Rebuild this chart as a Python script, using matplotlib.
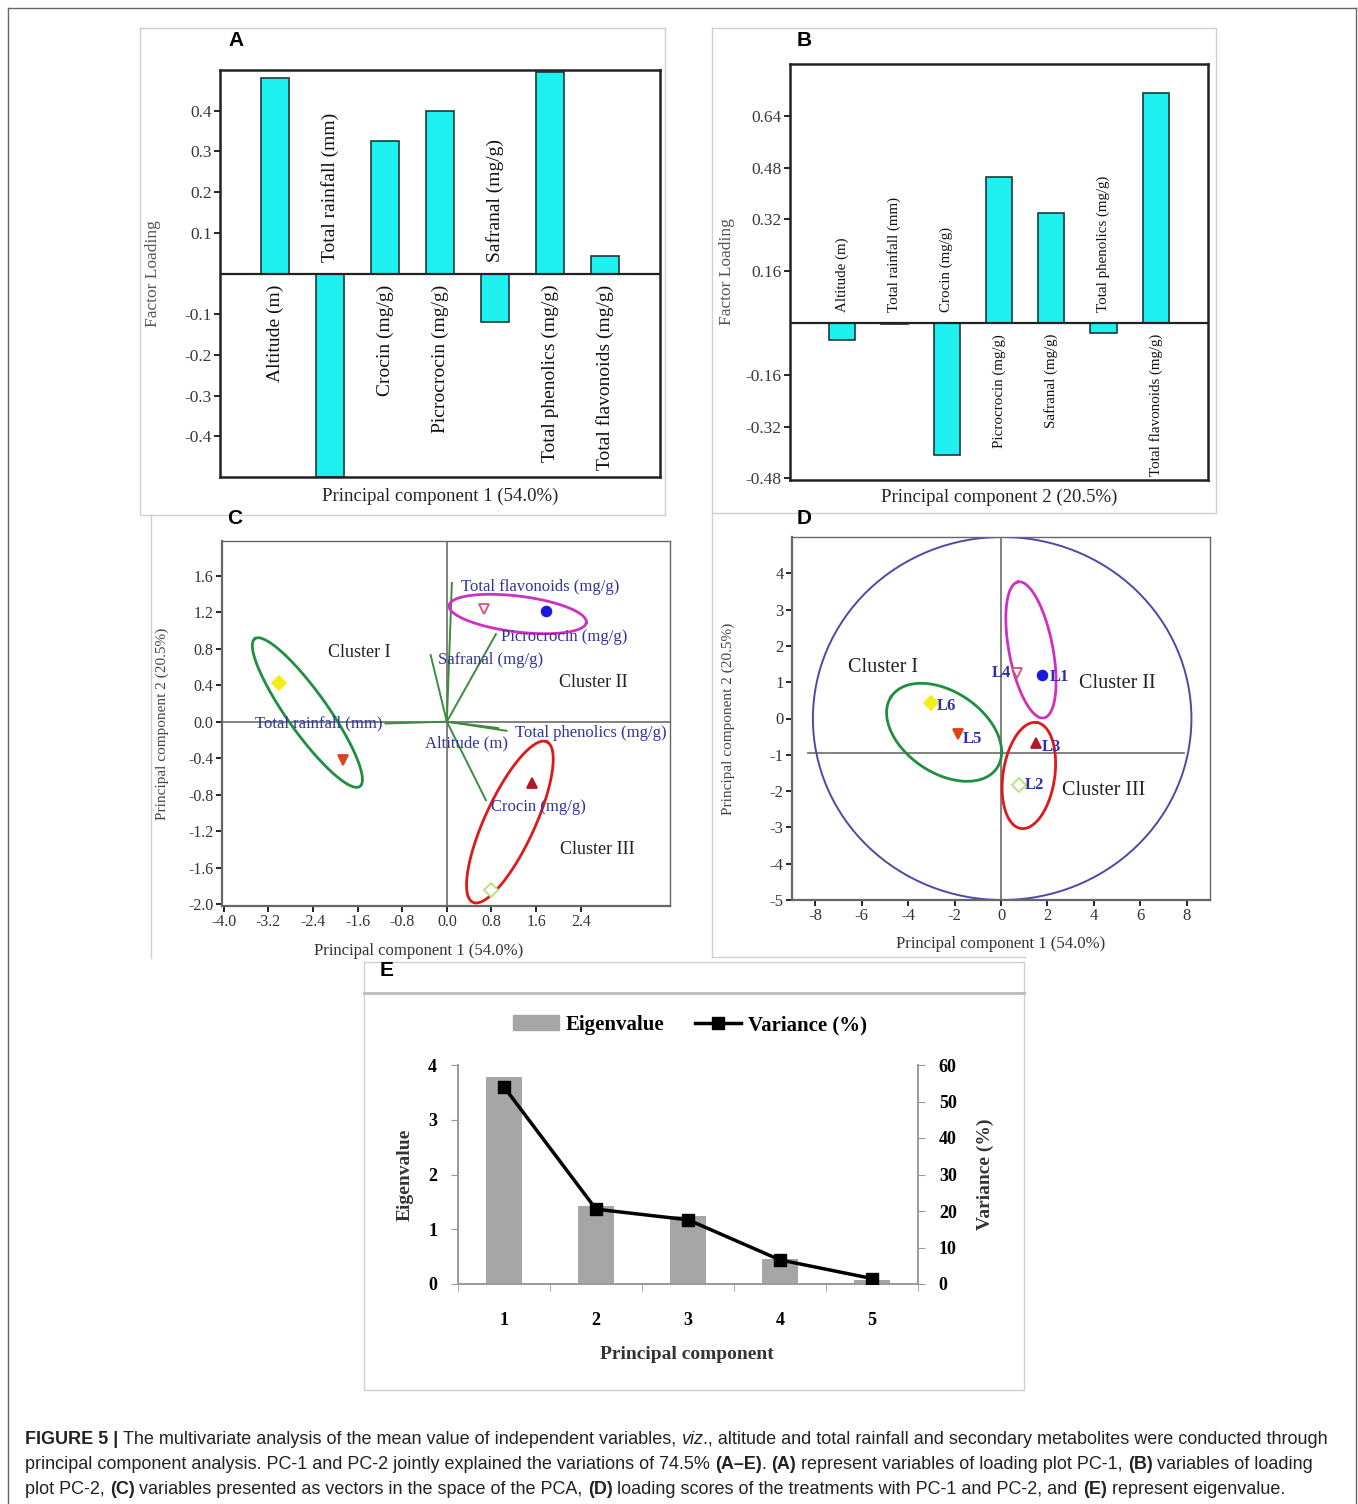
import numpy as np
import matplotlib.pyplot as plt
from matplotlib.patches import Ellipse, Patch
from matplotlib.lines import Line2D

W, H = 1358, 1504
SERIF = 'Liberation Serif'
SANS = 'Liberation Sans'

# ---- data ----
variables = ['Altitude (m)', 'Total rainfall (mm)', 'Crocin (mg/g)', 'Picrocrocin (mg/g)',
             'Safranal (mg/g)', 'Total phenolics (mg/g)', 'Total flavonoids (mg/g)']
pc1_loading = [0.48, -0.50, 0.326, 0.40, -0.118, 0.496, 0.042]
pc2_loading = [-0.053, -0.003, -0.408, 0.451, 0.34, -0.031, 0.711]

# biplot vector tips (panel C)
vec_x = [0.92, -1.10, 0.70, 0.88, -0.29, 1.07, 0.09]
vec_y = [-0.07, -0.02, -0.86, 0.96, 0.73, -0.10, 1.52]

locations = ['L1', 'L2', 'L3', 'L4', 'L5', 'L6']
score_pc1 = [1.78, 0.79, 1.52, 0.67, -1.87, -3.0]
score_pc2 = [1.21, -1.84, -0.67, 1.24, -0.42, 0.42]

components = [1, 2, 3, 4, 5]
eigenvalues = [3.78, 1.43, 1.24, 0.45, 0.07]
variance_pct = [54.0, 20.5, 17.6, 6.6, 1.5]

ytick_a = [-0.4, -0.3, -0.2, -0.1, 0.1, 0.2, 0.3, 0.4]
ytick_b = [-0.48, -0.32, -0.16, 0.16, 0.32, 0.48, 0.64]
xtick_c = [-4.0, -3.2, -2.4, -1.6, -0.8, 0.0, 0.8, 1.6, 2.4]
ytick_c = [-2.0, -1.6, -1.2, -0.8, -0.4, 0.0, 0.4, 0.8, 1.2, 1.6]

# marker style per location L1..L6
loc_marker = ['o', 'D', '^', 'v', 'v', 'D']
loc_face = ['#1a1adf', 'white', '#b0182a', 'white', '#e0401a', '#f2ee1c']
loc_edge = ['#1a1adf', '#b5e27a', '#b0182a', '#d9507a', '#e0401a', '#f2ee1c']

fig = plt.figure(figsize=(W / 100, H / 100), dpi=100)
fig.patch.set_facecolor('white')


def px_rect(x0, y0, x1, y1):
    return [x0 / W, 1 - y1 / H, (x1 - x0) / W, (y1 - y0) / H]


def fig_line(xs, ys, color='#cfcfcf', lw=1.0):
    fig.add_artist(Line2D([x / W for x in xs], [1 - y / H for y in ys],
                          color=color, lw=lw, transform=fig.transFigure))


def fig_box(x0, y0, x1, y1, **kw):
    fig_line([x0, x1, x1, x0, x0], [y0, y0, y1, y1, y0], **kw)


def panel_letter(x, y, s):
    fig.text(x / W, 1 - y / H, s, family=SANS, weight='bold', fontsize=15,
             ha='center', va='center')


def draw_ellipse(ax, c, u, v, color):
    t = np.linspace(0, 2 * np.pi, 240)
    ax.plot(c[0] + u[0] * np.cos(t) + v[0] * np.sin(t),
            c[1] + u[1] * np.cos(t) + v[1] * np.sin(t), color=color, lw=2.0, zorder=4)


def style_box(ax, lw=1.8, color='#222'):
    for s in ax.spines.values():
        s.set_linewidth(lw)
        s.set_color(color)


def fmt1(v):
    return '%.1f' % (0.0 if abs(v) < 1e-9 else v)


# outer border and panel frames
fig_line([8, 8], [1504, 8], color='#666')
fig_line([8, 1356], [8, 8], color='#666')
fig_line([1356, 1356], [8, 1504], color='#666')
fig_box(140, 28, 665, 515)
fig_box(712, 28, 1216, 513)
fig_line([151, 151], [515, 958])
fig_line([712, 712], [513, 957])
fig_line([712, 1025], [957, 957])
fig_box(364, 962, 1024, 1390)
fig_line([364, 1024], [993, 993], color='#bbbbbb', lw=2)


def loading_panel(rect, values, ylim, yticks, fmt, xlabel, fs, ylab_x, xlab_y):
    ax = fig.add_axes(px_rect(*rect))
    x = np.arange(len(variables))
    ax.bar(x, values, width=0.5, color='#1ef0f0', edgecolor='#1b3b3b', lw=1.2, zorder=2)
    ax.axhline(0, color='#222', lw=1.6, zorder=3)
    ax.set_xlim(-1, 7)
    ax.set_ylim(*ylim)
    ax.set_xticks([])
    ax.set_yticks(yticks)
    ax.set_yticklabels([fmt % v for v in yticks], family=SERIF)
    ax.tick_params(axis='y', direction='out', length=4, width=1.2, labelsize=12.5,
                   labelcolor='#3a3a3a', pad=2)
    style_box(ax)
    for i, (name, v) in enumerate(zip(variables, values)):
        up = v < 0
        ax.annotate(name, (i, 0), xytext=(0, 8 if up else -8), textcoords='offset points',
                    rotation=90, ha='center', va='bottom' if up else 'top',
                    fontsize=fs, family=SERIF, color='#111')
    ax.set_ylabel('Factor Loading', family=SERIF, fontsize=12.5, color='#555', va='center')
    ax.yaxis.set_label_coords(ylab_x, 0.5)
    ax.set_xlabel(xlabel, family=SERIF, fontsize=13.5, color='#222', va='center')
    ax.xaxis.set_label_coords(0.5, xlab_y)
    return ax


# ---- A ----
loading_panel((220, 70, 660, 477), pc1_loading, (-0.5, 0.5), ytick_a, '%.1f',
              'Principal component 1 (54.0%)', 14, -0.152, -0.047)
panel_letter(236, 40, 'A')

# ---- B ----
loading_panel((790, 64, 1208, 480), pc2_loading, (-0.485, 0.80), ytick_b, '%.2f',
              'Principal component 2 (20.5%)', 10.8, -0.15, -0.041)
panel_letter(804, 40, 'B')

# ---- C ----
axc = fig.add_axes(px_rect(222, 541, 670, 906))
axc.set_xlim(-4.03, 4.0)
axc.set_ylim(-2.02, 1.98)
axc.axhline(0, color='#777', lw=1.3, zorder=1)
axc.axvline(0, color='#777', lw=1.3, zorder=1)
for vx, vy in zip(vec_x, vec_y):
    axc.plot([0, vx], [0, vy], color='#3d8b3d', lw=1.4, zorder=2)
vec_label_pos = [(-0.39, -0.24), (-3.43, -0.02), (0.80, -0.93), (0.97, 0.93),
                 (-0.16, 0.68), (1.23, -0.12), (0.25, 1.48)]
for name, (tx, ty) in zip(variables, vec_label_pos):
    axc.text(tx, ty, name, color='#33339a', fontsize=12, family=SERIF,
             ha='left', va='center', zorder=5)
for i in range(len(locations)):
    axc.plot(score_pc1[i], score_pc2[i], marker=loc_marker[i], ms=7,
             mfc=loc_face[i], mec=loc_edge[i], mew=1.3, ls='none', zorder=6)
draw_ellipse(axc, (-2.50, 0.10), (-0.94, 0.81), (0.30, 0.125), '#1f8f3f')
draw_ellipse(axc, (1.27, 1.18), (1.23, -0.093), (0.04, 0.195), '#d030c0')
draw_ellipse(axc, (1.13, -1.10), (0.66, 0.88), (0.41, -0.11), '#e01818')
for s, cx, cy in [('Cluster I', -1.57, 0.76), ('Cluster II', 2.63, 0.43),
                  ('Cluster III', 2.70, -1.40)]:
    axc.text(cx, cy, s, family=SERIF, fontsize=13, color='#222', ha='center', va='center')
axc.set_xticks(xtick_c)
axc.set_xticklabels([fmt1(v) for v in xtick_c], family=SERIF)
axc.set_yticks(ytick_c)
axc.set_yticklabels([fmt1(v) for v in ytick_c], family=SERIF)
axc.tick_params(direction='out', length=4, width=1.2, labelsize=11.5, labelcolor='#333', pad=2)
style_box(axc, lw=1.0, color='#666')
axc.spines['left'].set_linewidth(1.6)
axc.spines['bottom'].set_linewidth(1.6)
axc.set_ylabel('Principal component 2 (20.5%)', family=SERIF, fontsize=11, color='#444', va='center')
axc.yaxis.set_label_coords(-0.134, 0.5)
axc.set_xlabel('Principal component 1 (54.0%)', family=SERIF, fontsize=12, color='#333', va='center')
axc.xaxis.set_label_coords(0.44, -0.123)
panel_letter(235, 518, 'C')

# ---- D ----
axd = fig.add_axes(px_rect(792, 537, 1210, 900))
axd.set_xlim(-9, 9)
axd.set_ylim(-5, 5)
axd.add_patch(Ellipse((0.05, 0), 16.3, 10.0, fill=False, ec='#4a4aa8', lw=1.4, zorder=2))
axd.axvline(0, color='#777', lw=1.3, zorder=1)
axd.plot([-8.3, 7.9], [-0.96, -0.96], color='#777', lw=1.3, zorder=1)
label_off = [(5, -2, 'left'), (4, 0, 'left'), (4, -3, 'left'),
             (-4, 0, 'right'), (4, -4, 'left'), (4, -2, 'left')]
for i, name in enumerate(locations):
    axd.plot(score_pc1[i], score_pc2[i], marker=loc_marker[i], ms=7,
             mfc=loc_face[i], mec=loc_edge[i], mew=1.3, ls='none', zorder=6)
    dx, dy, ha = label_off[i]
    axd.annotate(name, (score_pc1[i], score_pc2[i]), xytext=(dx, dy), textcoords='offset points',
                 ha=ha, va='center', family=SERIF, fontsize=12, weight='bold', color='#3030a0', zorder=7)
draw_ellipse(axd, (-2.45, -0.38), (-2.30, 0.96), (0.92, 0.95), '#1f8f3f')
draw_ellipse(axd, (1.29, 1.89), (-0.558, 1.873), (0.927, 0.114), '#d030c0')
draw_ellipse(axd, (1.20, -1.57), (0.343, 1.46), (1.10, -0.107), '#e01818')
for s, cx, cy in [('Cluster I', -5.1, 1.4), ('Cluster II', 5.0, 0.96), ('Cluster III', 4.4, -1.98)]:
    axd.text(cx, cy, s, family=SERIF, fontsize=14.5, color='#222', ha='center', va='center')
axd.set_xticks(np.arange(-8, 9, 2))
axd.set_xticklabels([str(v) for v in range(-8, 9, 2)], family=SERIF)
axd.set_yticks(np.arange(-5, 5, 1))
axd.set_yticklabels([str(v) for v in range(-5, 5)], family=SERIF)
axd.tick_params(direction='out', length=4, width=1.2, labelsize=12, labelcolor='#333', pad=2)
style_box(axd, lw=1.0, color='#666')
axd.spines['left'].set_linewidth(1.6)
axd.spines['bottom'].set_linewidth(1.6)
axd.set_ylabel('Principal component 2 (20.5%)', family=SERIF, fontsize=11, color='#444', va='center')
axd.yaxis.set_label_coords(-0.153, 0.5)
axd.set_xlabel('Principal component 1 (54.0%)', family=SERIF, fontsize=12, color='#333', va='center')
axd.xaxis.set_label_coords(0.5, -0.121)
panel_letter(804, 518, 'D')

# ---- E ----
axe = fig.add_axes(px_rect(458, 1065, 918, 1284))
axe.bar(components, eigenvalues, width=0.4, color='#a6a6a6', zorder=2)
axe.set_xlim(0.5, 5.5)
axe.set_ylim(0, 4)
axe.set_xticks(components)
axe.set_xticklabels([str(c) for c in components], family=SERIF, weight='bold')
axe.set_xticks(np.arange(0.5, 6.0, 1.0), minor=True)
axe.tick_params(axis='x', which='major', length=0, labelsize=13, pad=20)
axe.tick_params(axis='x', which='minor', length=5, color='#999', direction='out')
axe.set_yticks(range(0, 5))
axe.set_yticklabels([str(v) for v in range(0, 5)], family=SERIF, weight='bold')
axe.tick_params(axis='y', length=5, color='#999', direction='out', labelsize=13, pad=10)
axe.spines['top'].set_visible(False)
axe.spines['right'].set_visible(False)
axe.spines['left'].set_color('#999')
axe.spines['bottom'].set_color('#999')
axe.spines['left'].set_linewidth(1.4)
axe.spines['bottom'].set_linewidth(1.4)
axe.set_ylabel('Eigenvalue', family=SERIF, fontsize=14, weight='bold', color='#333', va='center')
axe.yaxis.set_label_coords(-0.115, 0.5)
axe.set_xlabel('Principal component', family=SERIF, fontsize=14, weight='bold', color='#333', va='center')
axe.xaxis.set_label_coords(0.498, -0.324)

axv = axe.twinx()
axv.plot(components, variance_pct, color='black', lw=2.5, marker='s', ms=9, zorder=3)
axv.set_ylim(0, 60)
axv.set_yticks(range(0, 61, 10))
axv.set_yticklabels([str(v) for v in range(0, 61, 10)], family=SERIF, weight='bold')
axv.tick_params(axis='y', length=5, color='#999', direction='out', labelsize=13, pad=10)
for k in ['top', 'left', 'bottom']:
    axv.spines[k].set_visible(False)
axv.spines['right'].set_color('#999')
axv.spines['right'].set_linewidth(1.4)
axv.set_ylabel('Variance (%)', family=SERIF, fontsize=14, weight='bold', color='#333',
               rotation=90, va='center')
axv.yaxis.set_label_coords(1.146, 0.5)

handles = [Patch(color='#a6a6a6'),
           Line2D([], [], color='black', lw=2.5, marker='s', ms=9)]
fig.legend(handles, ['Eigenvalue', 'Variance (%)'], loc='center',
           bbox_to_anchor=(690 / W, 1 - 1025 / H), ncol=2, frameon=False,
           prop={'family': SERIF, 'size': 15, 'weight': 'bold'},
           handlelength=2.2, columnspacing=1.5, handletextpad=0.3)
panel_letter(387, 970, 'E')

# ---- caption ----
renderer = fig.canvas.get_renderer()


def measure(s, size, weight, style):
    t = fig.text(0, 0, s + '|', family=SANS, fontsize=size, weight=weight, style=style)
    w1 = t.get_window_extent(renderer=renderer).width
    t.set_text('|')
    w2 = t.get_window_extent(renderer=renderer).width
    t.remove()
    return w1 - w2


caption = [
    [('FIGURE 5 | ', 'bold', 'normal'),
     ('The multivariate analysis of the mean value of independent variables, ', 'normal', 'normal'),
     ('viz', 'normal', 'italic'),
     ('., altitude and total rainfall and secondary metabolites were conducted through', 'normal', 'normal')],
    [('principal component analysis. PC-1 and PC-2 jointly explained the variations of 74.5% ', 'normal', 'normal'),
     ('(A\u2013E)', 'bold', 'normal'), ('. ', 'normal', 'normal'),
     ('(A)', 'bold', 'normal'), (' represent variables of loading plot PC-1, ', 'normal', 'normal'),
     ('(B)', 'bold', 'normal'), (' variables of loading', 'normal', 'normal')],
    [('plot PC-2, ', 'normal', 'normal'), ('(C)', 'bold', 'normal'),
     (' variables presented as vectors in the space of the PCA, ', 'normal', 'normal'),
     ('(D)', 'bold', 'normal'),
     (' loading scores of the treatments with PC-1 and PC-2, and ', 'normal', 'normal'),
     ('(E)', 'bold', 'normal'), (' represent eigenvalue.', 'normal', 'normal')],
]
base = 13.0
w_line1 = sum(measure(s, base, w, st) for s, w, st in caption[0])
cap_size = base * 1303 / w_line1
for line, yb in zip(caption, [1444, 1469, 1494]):
    x = 25
    for s, w, st in line:
        fig.text(x / W, 1 - yb / H, s, family=SANS, fontsize=cap_size, weight=w, style=st,
                 va='baseline', ha='left', color='#222')
        x += measure(s, cap_size, w, st)

fig.savefig('out.png', dpi=100, facecolor='white')
